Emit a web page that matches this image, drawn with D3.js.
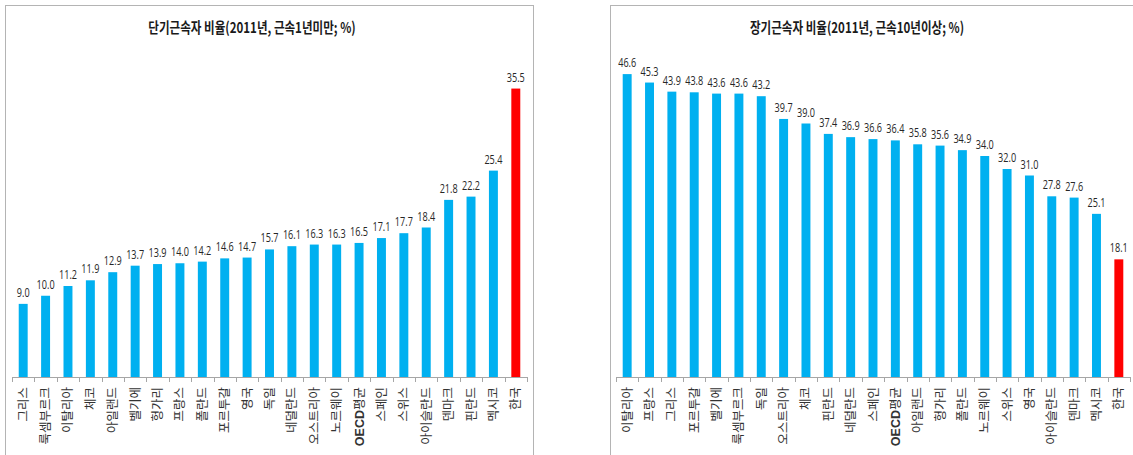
<!DOCTYPE html>
<html>
<head>
<meta charset="utf-8">
<script src="https://cdn.jsdelivr.net/npm/d3@7"></script>
<style>
  html, body { margin: 0; padding: 0; background: #fff; }
  svg { display: block; }
</style>
</head>
<body>
<svg id="chart" width="1133" height="455"></svg>
<script>
// Short-tenure workers (under 1 year), 2011, %
const shortCategories = ["그리스", "룩셈부르크", "이탈리아", "체코", "아일랜드", "벨기에", "헝가리", "프랑스", "폴란드", "포르투갈", "영국", "독일", "네덜란드", "오스트리아", "노르웨이", "OECD평균", "스페인", "스위스", "아이슬란드", "덴마크", "핀란드", "멕시코", "한국"];
const shortValues = [9.0, 10.0, 11.2, 11.9, 12.9, 13.7, 13.9, 14.0, 14.2, 14.6, 14.7, 15.7, 16.1, 16.3, 16.3, 16.5, 17.1, 17.7, 18.4, 21.8, 22.2, 25.4, 35.5];

// Long-tenure workers (10 years or more), 2011, %
const longCategories = ["이탈리아", "프랑스", "그리스", "포르투갈", "벨기에", "룩셈부르크", "독일", "오스트리아", "체코", "핀란드", "네덜란드", "스페인", "OECD평균", "아일랜드", "헝가리", "폴란드", "노르웨이", "스위스", "영국", "아이슬란드", "덴마크", "멕시코", "한국"];
const longValues = [46.6, 45.3, 43.9, 43.8, 43.6, 43.6, 43.2, 39.7, 39.0, 37.4, 36.9, 36.6, 36.4, 35.8, 35.6, 34.9, 34.0, 32.0, 31.0, 27.8, 27.6, 25.1, 18.1];

const titles = ["단기근속자 비율(2011년, 근속1년미만; %)", "장기근속자 비율(2011년, 근속10년이상; %)"];
const highlightCategory = "한국";

const BLUE = "#00b0f0", RED = "#ff0000";
const svg = d3.select("#chart");

// Panel frames
svg.append("rect").attr("x", 5.5).attr("y", 5.5).attr("width", 528).attr("height", 460)
  .attr("fill", "none").attr("stroke", "#b4b4b4");
svg.append("rect").attr("x", 610.5).attr("y", 5.5).attr("width", 540).attr("height", 460)
  .attr("fill", "none").attr("stroke", "#b4b4b4");

function drawPanel(cfg) {
  const g = svg.append("g");
  const data = cfg.categories.map((c, i) => ({ c, v: cfg.values[i] }));

  const x = d3.scaleBand().domain(cfg.categories).range(cfg.xRange)
    .paddingInner(0.6).paddingOuter(0.3);
  const y = d3.scaleLinear().domain(cfg.yDomain).range([377, 52]);

  // Title, set in a condensed bold face
  g.append("text")
    .attr("transform", `translate(${cfg.titleX},33) scale(0.77,1)`)
    .attr("text-anchor", "middle")
    .attr("font-family", "'Noto Sans CJK KR', sans-serif")
    .attr("font-weight", "bold")
    .attr("font-size", 15)
    .attr("fill", "#1a1a1a")
    .text(cfg.title);

  // Bars
  g.selectAll("rect.bar").data(data).join("rect")
    .attr("class", "bar")
    .attr("x", d => x(d.c))
    .attr("width", x.bandwidth())
    .attr("y", d => y(d.v))
    .attr("height", d => y(0) - y(d.v))
    .attr("fill", d => d.c === highlightCategory ? RED : BLUE);

  // Value labels, horizontally condensed
  g.selectAll("text.val").data(data).join("text")
    .attr("class", "val")
    .attr("transform", d => `translate(${x(d.c) + x.bandwidth() / 2},${y(d.v) - 7}) scale(0.7,1)`)
    .attr("text-anchor", "middle")
    .attr("font-family", "'Open Sans', 'Liberation Sans', sans-serif")
    .attr("font-size", 13)
    .attr("fill", "#262626")
    .text(d => d.v.toFixed(1));

  // Category axis: line plus ticks between categories
  const r = x.range();
  const axis = g.append("g").attr("stroke", "#a6a6a6").attr("shape-rendering", "crispEdges");
  axis.append("line").attr("x1", r[0]).attr("x2", r[1]).attr("y1", y(0) + 0.5).attr("y2", y(0) + 0.5);
  axis.selectAll("line.tick").data(d3.range(cfg.categories.length + 1)).join("line")
    .attr("class", "tick")
    .attr("x1", i => Math.round(r[0] + i * x.step()) + 0.5)
    .attr("x2", i => Math.round(r[0] + i * x.step()) + 0.5)
    .attr("y1", y(0)).attr("y2", y(0) + 5);

  // Category labels, rotated to read bottom-to-top
  const labels = g.selectAll("text.cat").data(data).join("text")
    .attr("class", "cat")
    .attr("transform", d => `translate(${x(d.c) + x.bandwidth() / 2},387) rotate(-90)`)
    .attr("dy", "0.36em")
    .attr("text-anchor", "end")
    .attr("font-family", "'Noto Sans CJK KR', sans-serif")
    .attr("font-size", 12.5)
    .attr("fill", "#333");
  labels.each(function(d) {
    const m = d.c.match(/^([A-Za-z]+)(.*)$/);
    const t = d3.select(this);
    if (m) {
      t.append("tspan").attr("font-weight", "bold").attr("font-family", "'Liberation Sans', sans-serif").text(m[1]);
      t.append("tspan").text(m[2]);
    } else {
      t.text(d.c);
    }
  });
}

drawPanel({
  categories: shortCategories, values: shortValues, title: titles[0],
  xRange: [12, 527], yDomain: [0, 40], titleX: 252
});
drawPanel({
  categories: longCategories, values: longValues, title: titles[1],
  xRange: [616, 1130], yDomain: [0, 50], titleX: 857
});
</script>
</body>
</html>
